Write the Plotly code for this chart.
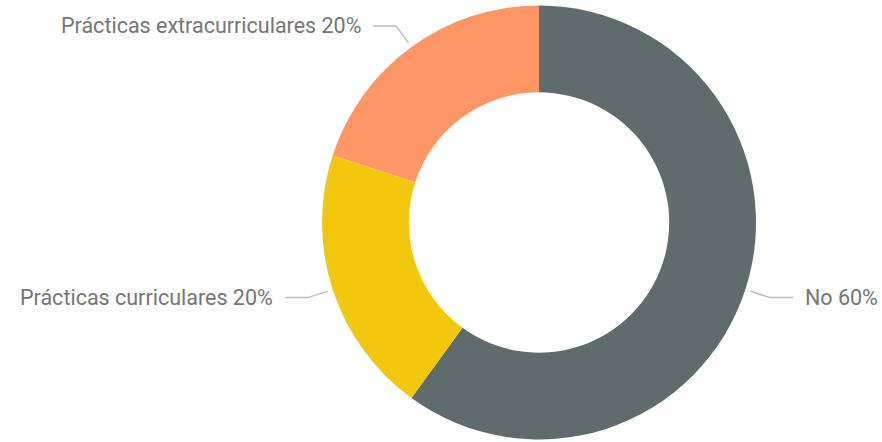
import math
import plotly.graph_objects as go

labels = ["No", "Prácticas curriculares", "Prácticas extracurriculares"]
values = [60, 20, 20]
colors = ["#5F6B6D", "#F2C80F", "#FE9666"]

W, H = 882, 442
cx, cy, R = 539, 222.5, 217

fig = go.Figure(go.Pie(
    labels=labels, values=values, hole=0.6, sort=False, direction="clockwise",
    rotation=0, marker=dict(colors=colors, line=dict(width=0)),
    textinfo="none", hoverinfo="label+percent", showlegend=False,
    domain=dict(x=[(cx - R) / W, (cx + R) / W], y=[1 - (cy + R) / H, 1 - (cy - R) / H]),
))

total = sum(values)
cum = 0
shapes, annotations = [], []
for lab, v in zip(labels, values):
    mid = (cum + v / 2) / total * 2 * math.pi
    cum += v
    sx, sy = math.sin(mid), -math.cos(mid)
    x0, y0 = cx + 222 * sx, cy + 222 * sy
    x1, y1 = cx + 243 * sx, cy + 243 * sy
    d = 1 if sx >= 0 else -1
    x2 = x1 + 23 * d
    pts = [(x0, y0), (x1, y1), (x2, y1)]
    path = "M " + " L ".join(f"{px / W},{1 - py / H}" for px, py in pts)
    shapes.append(dict(type="path", xref="paper", yref="paper", path=path,
                       line=dict(color="#BDBDBD", width=1.5)))
    pct = round(v / total * 100)
    annotations.append(dict(
        xref="paper", yref="paper", x=(x2 + 10 * d) / W, y=1 - y1 / H,
        text=f"{lab} {pct}%", showarrow=False,
        xanchor="left" if d > 0 else "right", yanchor="middle",
        font=dict(family="Roboto", size=21.5, color="#767676"),
    ))

fig.update_layout(
    width=W, height=H, margin=dict(l=0, r=0, t=0, b=0),
    paper_bgcolor="white", plot_bgcolor="white",
    shapes=shapes, annotations=annotations,
)
fig.write_html("out.html", config={"displayModeBar": False},
               post_script="document.body.style.margin='0';document.body.style.overflow='hidden';")
